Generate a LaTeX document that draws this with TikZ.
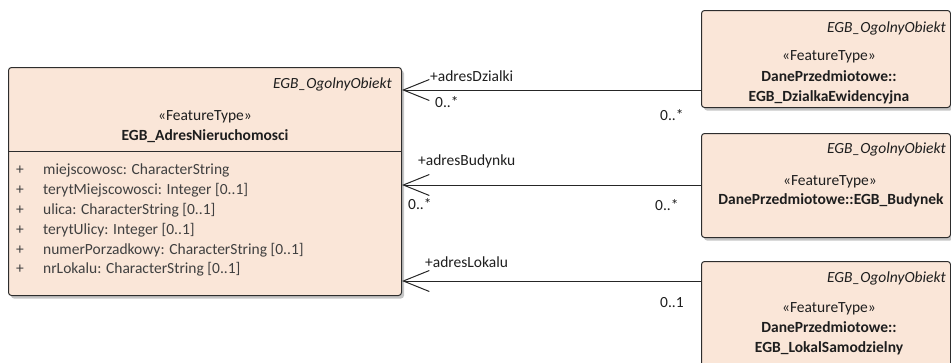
\documentclass[tikz,border=0pt]{standalone}
\usepackage{fontspec}
\setmainfont{Carlito}
\usetikzlibrary{arrows.meta,shadows,positioning}
\definecolor{ftfill}{RGB}{250,230,216}
\definecolor{ftdraw}{RGB}{45,45,45}
\definecolor{fttext}{RGB}{30,30,30}
\tikzset{
  ftbox/.style={draw=ftdraw, line width=1pt, fill=ftfill, rounded corners=3pt,
    drop shadow={shadow xshift=2.5pt, shadow yshift=-3pt, fill=black!45, opacity=0.5},
    anchor=north west, inner sep=0pt},
  txt/.style={inner sep=0pt, text=fttext, text height=11pt, text depth=3.5pt,
    font=\fontsize{15.5}{20}\selectfont},
  parent/.style={txt, anchor=east, font=\fontsize{15.5}{20}\selectfont\itshape},
  stereo/.style={txt},
  cname/.style={txt, align=center, text height=, text depth=,
    font=\fontsize{15.5}{20}\selectfont\bfseries},
  attr/.style={txt, anchor=west, text=black!75},
  role/.style={txt, anchor=west},
  assoc/.style={draw=black!85, line width=1pt,
    -{Straight Barb[length=26pt,width=21pt]}}
}

\begin{document}
\begin{tikzpicture}[x=1pt,y=-1pt]
\clip (0,0) rectangle (951,362);

\node[ftbox, minimum width=393pt, minimum height=228pt] (adres) at (8,67) {};
\node[parent] (adresParent) at (392,85) {EGB\_OgolnyObiekt};
\node[stereo] (adresStereo) at (205,117) {«FeatureType»};
\node[cname] (adresName) at (205,136) {EGB\_AdresNieruchomosci};
\draw[ftdraw, line width=1pt] (adres.west |- 0,151) -- (adres.east |- 0,151);

\node[attr] (plus1) at (16,171) {+};
\node[attr] (attr1) at (43,171) {miejscowosc: CharacterString};
\node[attr] (plus2) at (16,191) {+};
\node[attr] (attr2) at (43,191) {terytMiejscowosci: Integer [0..1]};
\node[attr] (plus3) at (16,211) {+};
\node[attr] (attr3) at (43,211) {ulica: CharacterString [0..1]};
\node[attr] (plus4) at (16,231) {+};
\node[attr] (attr4) at (43,231) {terytUlicy: Integer [0..1]};
\node[attr] (plus5) at (16,251) {+};
\node[attr] (attr5) at (43,251) {numerPorzadkowy: CharacterString [0..1]};
\node[attr] (plus6) at (16,270) {+};
\node[attr] (attr6) at (43,270) {nrLokalu: CharacterString [0..1]};

\node[ftbox, minimum width=249pt, minimum height=97pt] (dzialka) at (701,10) {};
\node[parent] (dzialkaParent) at (946,29) {EGB\_OgolnyObiekt};
\node[stereo] (dzialkaStereo) at (829,57) {«FeatureType»};
\node[cname] (dzialkaName) at (829,87) {DanePrzedmiotowe::\\EGB\_DzialkaEwidencyjna};

\node[ftbox, minimum width=249pt, minimum height=104pt] (budynek) at (701,133) {};
\node[parent] (budynekParent) at (946,150) {EGB\_OgolnyObiekt};
\node[stereo] (budynekStereo) at (830,182) {«FeatureType»};
\node[cname] (budynekName) at (831,200) {DanePrzedmiotowe::EGB\_Budynek};

\node[ftbox, minimum width=249pt, minimum height=110pt] (lokal) at (701,261) {};
\node[parent] (lokalParent) at (946,279) {EGB\_OgolnyObiekt};
\node[stereo] (lokalStereo) at (829,309) {«FeatureType»};
\node[cname] (lokalName) at (829,338) {DanePrzedmiotowe::\\EGB\_LokalSamodzielny};

\draw[assoc] (dzialka.west |- 0,90) -- (adres.east |- 0,90);
\node[role] (roleDzialki) at (430,78) {+adresDzialki};
\node[role] (multDzialkiA) at (435,104) {0..*};
\node[role] (multDzialkiB) at (660,117) {0..*};

\draw[assoc] (budynek.west |- 0,185) -- (adres.east |- 0,185);
\node[role] (roleBudynku) at (418,162) {+adresBudynku};
\node[role] (multBudynkuA) at (408,206) {0..*};
\node[role] (multBudynkuB) at (655,207) {0..*};

\draw[assoc] (lokal.west |- 0,281) -- (adres.east |- 0,281);
\node[role] (roleLokalu) at (425,264) {+adresLokalu};
\node[role] (multLokalu) at (660,304) {0..1};
\end{tikzpicture}
\end{document}
